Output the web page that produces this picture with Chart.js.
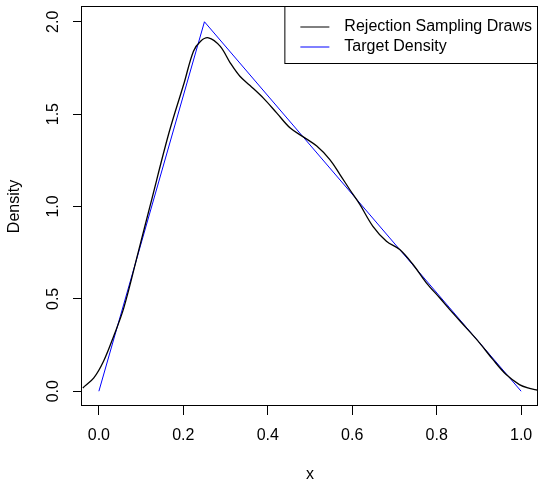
<!DOCTYPE html>
<html>
<head>
<meta charset="utf-8">
<script src="https://cdn.jsdelivr.net/npm/chart.js@4.4.1/dist/chart.umd.min.js"></script>
<style>
  html, body { margin: 0; padding: 0; background: #fff; }
  #box { width: 539px; height: 484px; }
</style>
</head>
<body>
<div id="box"><canvas id="myChart" width="539" height="484"></canvas></div>
<script>
// kernel density of the sampled draws
let drawsX = [-0.038, -0.012, 0.011, 0.035, 0.059, 0.094, 0.122, 0.166, 0.202, 0.224, 0.241, 0.2595, 0.287, 0.311,
  0.334, 0.358, 0.389, 0.421, 0.4525, 0.484, 0.516, 0.547, 0.571, 0.594, 0.618, 0.649, 0.681, 0.7125,
  0.744, 0.7755, 0.807, 0.838, 0.87, 0.9015, 0.933, 0.9646, 0.996, 1.02, 1.039];
let drawsY = [0.018, 0.072, 0.162, 0.298, 0.451, 0.76, 1.01, 1.399, 1.67, 1.841, 1.895, 1.913, 1.868, 1.778,
  1.705, 1.655, 1.588, 1.507, 1.426, 1.377, 1.327, 1.254, 1.173, 1.092, 1.011, 0.893, 0.812, 0.767,
  0.686, 0.587, 0.506, 0.424, 0.343, 0.262, 0.172, 0.09, 0.036, 0.015, 0.005];

// triangular target density
let targetX = [0, 0.25, 1];
let targetY = [0, 2, 0];

let xTicks = [0, 0.2, 0.4, 0.6, 0.8, 1.0];
let yTicks = [0, 0.5, 1.0, 1.5, 2.0];
let xTickLabels = ["0.0", "0.2", "0.4", "0.6", "0.8", "1.0"];
let yTickLabels = ["0.0", "0.5", "1.0", "1.5", "2.0"];

let font = "16px 'Liberation Sans', Arial, sans-serif";

let toPoints = (xs, ys) => xs.map((x, i) => ({ x: x, y: ys[i] }));

let rAxes = {
  id: "rAxes",
  afterDraw(chart) {
    let ctx = chart.ctx;
    let a = chart.chartArea;
    let sx = chart.scales.x;
    let sy = chart.scales.y;
    ctx.save();

    // plot box
    ctx.strokeStyle = "#000";
    ctx.lineWidth = 1;
    ctx.strokeRect(a.left - 0.5, a.top - 0.5, a.right - a.left, a.bottom - a.top);

    ctx.fillStyle = "#000";
    ctx.font = font;
    ctx.textAlign = "center";
    ctx.textBaseline = "middle";
    xTicks.forEach((v, i) => {
      ctx.fillText(xTickLabels[i], sx.getPixelForValue(v), 436);
    });
    yTicks.forEach((v, i) => {
      ctx.save();
      ctx.translate(54, sy.getPixelForValue(v));
      ctx.rotate(-Math.PI / 2);
      ctx.fillText(yTickLabels[i], 0, 0);
      ctx.restore();
    });

    // axis titles
    ctx.fillText("x", (a.left + a.right) / 2, 475);
    ctx.save();
    ctx.translate(15, (a.top + a.bottom) / 2);
    ctx.rotate(-Math.PI / 2);
    ctx.fillText("Density", 0, 0);
    ctx.restore();

    // legend, top right
    let sets = chart.data.datasets;
    ctx.textAlign = "left";
    let textW = Math.max(...sets.map((d) => ctx.measureText(d.label).width));
    let w = 15 + 29 + 15 + textW + 6;
    let h = 57;
    let lx = a.right - w;
    let ly = a.top;
    ctx.fillStyle = "#fff";
    ctx.fillRect(lx, ly, w, h);
    ctx.strokeStyle = "#000";
    ctx.strokeRect(lx - 0.5, ly - 0.5, w, h);
    sets.forEach((d, i) => {
      let yy = ly + 20 + i * 20;
      ctx.strokeStyle = d.borderColor;
      ctx.lineWidth = 1;
      ctx.beginPath();
      ctx.moveTo(lx + 15, yy);
      ctx.lineTo(lx + 44, yy);
      ctx.stroke();
      ctx.fillStyle = "#000";
      ctx.fillText(d.label, lx + 59, yy);
    });
    ctx.restore();
  },
};

let config = {
  type: "scatter",
  data: {
    datasets: [
      {
        label: "Rejection Sampling Draws",
        data: toPoints(drawsX, drawsY),
        borderColor: "#000000",
        borderWidth: 1.3,
        showLine: true,
        tension: 0.35,
        pointRadius: 0,
      },
      {
        label: "Target Density",
        data: toPoints(targetX, targetY),
        borderColor: "#0000ff",
        borderWidth: 1,
        showLine: true,
        tension: 0,
        pointRadius: 0,
      },
    ],
  },
  options: {
    responsive: false,
    animation: false,
    layout: { padding: { left: 0, top: 7, right: 1, bottom: 0 } },
    plugins: { legend: { display: false }, tooltip: { enabled: false } },
    scales: {
      x: {
        type: "linear",
        min: -0.04,
        max: 1.04,
        afterBuildTicks: (s) => { s.ticks = xTicks.map((v) => ({ value: v })); },
        afterFit: (s) => { s.height = 78; },
        ticks: { display: false },
        grid: { drawOnChartArea: false, drawTicks: true, tickLength: 9, color: "#000" },
        border: { display: false },
      },
      y: {
        type: "linear",
        min: -0.08,
        max: 2.08,
        afterBuildTicks: (s) => { s.ticks = yTicks.map((v) => ({ value: v })); },
        afterFit: (s) => { s.width = 82; },
        ticks: { display: false },
        grid: { drawOnChartArea: false, drawTicks: true, tickLength: 9, color: "#000" },
        border: { display: false },
      },
    },
  },
  plugins: [rAxes],
};

let chart = new Chart(document.getElementById("myChart"), config);
</script>
</body>
</html>
